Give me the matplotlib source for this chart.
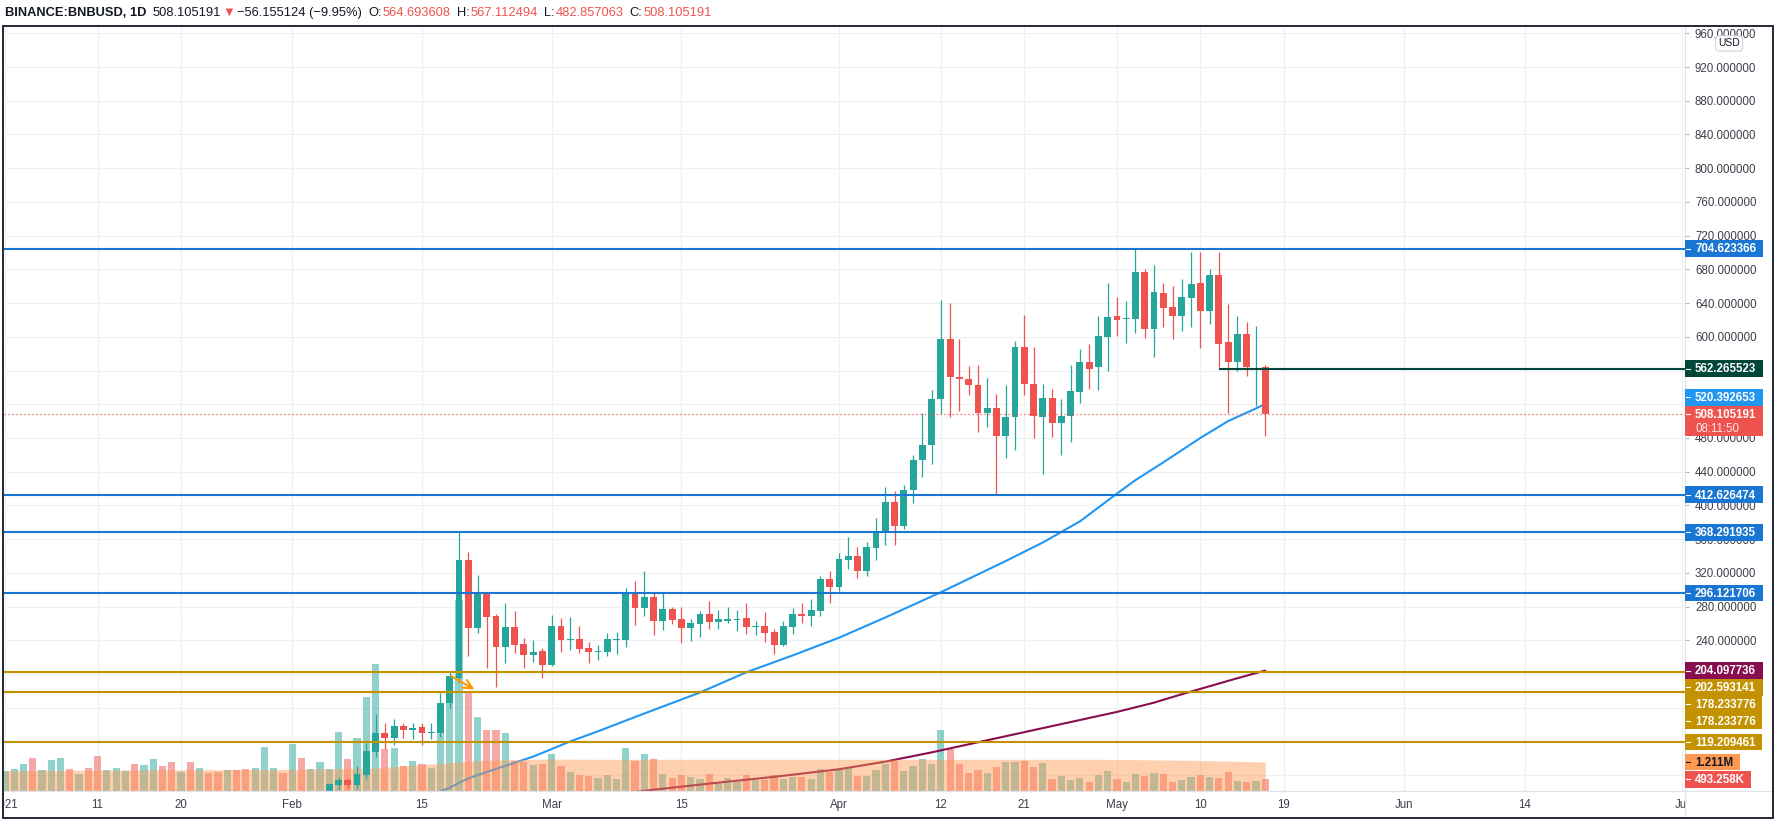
import matplotlib
matplotlib.use("Agg")
import matplotlib.pyplot as plt
import matplotlib.dates as mdates
from matplotlib.patches import Rectangle
from matplotlib.lines import Line2D
from matplotlib.ticker import FormatStrFormatter
from matplotlib.transforms import Bbox, TransformedBbox, blended_transform_factory
import numpy as np
import pandas as pd

plt.rcParams['font.family'] = ['Liberation Sans', 'DejaVu Sans']

W, H = 1779, 832

# ---------------- data ----------------
candle_start = "2021-02-05"
opens = [
    60.0, 68.5, 74.1, 68.1, 80.4, 107.6, 129.7, 123.8, 138.0, 133.7,
    136.8, 130.0, 130.1, 165.3, 195.7, 334.7, 254.1, 296.0, 268.3, 231.6,
    255.3, 235.2, 222.5, 226.9,
    210.3, 256.5, 240.0, 241.1, 230.4, 225.5, 226.1, 240.0, 240.3, 294.4,
    278.2, 290.8, 262.8, 276.6, 264.8, 254.1, 259.2, 270.7, 261.6, 262.8,
    263.6, 266.0, 255.5, 256.5, 249.4, 234.0, 255.3, 270.7, 268.7, 274.3,
    312.2,
    303.1, 335.1, 339.8, 321.6, 349.3, 369.3, 404.0, 375.3, 418.3, 453.4,
    471.2, 525.7, 597.6, 552.6, 550.2, 543.1, 509.1, 515.4, 481.9, 504.4,
    588.1, 544.3, 504.4, 527.7, 497.3, 505.6, 534.8, 570.3, 563.6, 600.3,
    624.4, 621.0, 621.7, 677.0, 609.8, 652.0, 635.0, 625.2, 646.5, 664.0,
    631.1, 673.4, 594.0, 570.7, 603.5, 561.0, 564.693608,
]
highs = [
    70.5, 78.0, 76.8, 90.6, 118.7, 152.2, 142.4, 146.3, 141.6, 142.4,
    141.6, 141.6, 178.0, 202.4, 368.2, 345.3, 316.9, 297.0, 270.7, 284.1,
    274.7, 243.1, 239.9, 230.4,
    269.9, 266.0, 267.1, 256.5, 237.5, 234.0, 248.2, 249.8, 301.5, 309.8,
    321.6, 296.0, 296.0, 279.8, 279.0, 265.6, 275.0, 286.0, 275.4, 279.0,
    276.2, 283.7, 263.2, 273.0, 253.7, 262.4, 277.8, 283.7, 288.5, 315.7,
    321.6,
    343.0, 362.3, 350.4, 356.0, 385.6, 422.2, 416.7, 424.2, 460.2, 509.5,
    536.8, 643.4, 639.8, 597.6, 565.6, 566.4, 551.4, 532.4, 543.1, 594.8,
    625.6, 588.1, 543.5, 538.3, 526.5, 566.4, 585.7, 591.7, 624.8, 664.0,
    647.3, 642.6, 705.0, 680.5, 685.2, 664.0, 660.4, 668.7, 700.6, 700.6,
    680.5, 700.6, 639.0, 624.8, 617.7, 613.0, 567.112494,
]
lows = [
    57.0, 63.4, 64.6, 63.4, 75.2, 101.3, 111.6, 115.9, 124.6, 122.6,
    115.5, 122.6, 125.0, 159.3, 189.7, 221.3, 248.2, 206.7, 184.6, 213.0,
    224.9, 206.7, 213.8, 195.3,
    209.5, 226.5, 228.1, 224.9, 213.4, 216.6, 220.9, 223.7, 232.0, 258.0,
    268.7, 246.2, 251.7, 259.2, 236.7, 239.1, 243.9, 252.9, 252.9, 260.0,
    250.6, 247.0, 246.2, 237.5, 223.3, 233.0, 247.0, 260.0, 256.5, 268.7,
    284.1,
    297.9, 324.4, 313.4, 315.7, 334.7, 353.5, 352.7, 372.0, 402.5, 433.3,
    448.7, 508.3, 504.4, 511.5, 530.4, 486.6, 492.5, 414.0, 455.8, 465.3,
    530.4, 479.5, 436.9, 481.5, 459.4, 474.8, 521.0, 538.0, 536.4, 559.0,
    601.5, 593.2, 605.0, 598.4, 575.9, 612.2, 597.2, 606.3, 612.2, 587.3,
    614.6, 563.6, 509.5, 559.0, 553.0, 517.4, 482.857063,
]
closes = [
    69.3, 74.1, 68.1, 80.8, 108.4, 129.7, 123.8, 138.0, 133.7, 136.4,
    129.7, 131.0, 166.1, 197.3, 334.7, 254.1, 296.0, 267.2, 231.6, 255.3,
    234.0, 222.1, 226.5, 210.3,
    256.5, 240.3, 241.0, 229.6, 226.1, 226.5, 241.1, 241.0, 294.4, 278.2,
    290.8, 262.8, 276.6, 264.0, 254.1, 260.0, 270.7, 261.6, 264.8, 264.8,
    265.6, 255.3, 256.1, 248.2, 234.0, 256.5, 270.7, 268.7, 275.4, 312.2,
    303.1,
    335.9, 339.8, 321.6, 350.5, 368.2, 404.0, 375.3, 418.3, 454.2, 471.6,
    526.0, 597.6, 551.8, 549.4, 542.3, 509.1, 515.4, 481.9, 505.2, 588.1,
    543.5, 505.6, 527.7, 497.3, 506.4, 536.0, 570.3, 562.4, 601.0, 623.6,
    620.5, 622.5, 677.0, 609.8, 653.3, 634.7, 625.2, 647.3, 662.7, 631.1,
    673.4, 592.0, 570.7, 603.5, 564.0, 562.3, 508.105191,
]
change_text = "\u221256.155124 (\u22129.95%)"
timer_text = "08:11:50"

# volume in millions, Jan 1 .. May 17
vol_start = "2021-01-01"
volumes = [
    0.85, 0.90, 1.125, 1.375, 0.875, 1.29, 1.375, 0.92, 0.71, 0.96,
    1.46, 0.875, 0.96, 0.85, 1.125, 1.08, 1.33, 1.04, 1.21, 0.79,
    1.21, 0.96, 0.76, 0.79, 0.875, 0.875, 0.92, 0.96, 1.83, 0.96,
    0.75,
    1.96, 1.375, 0.92, 1.21, 0.92, 2.46, 1.33, 2.21, 3.92, 5.29,
    1.75, 1.79, 1.04, 1.25, 1.125, 0.96, 3.42, 3.75, 7.96, 4.11,
    3.08, 2.54, 2.54, 2.42, 1.25, 1.21, 1.08, 1.125,
    1.54, 1.04, 0.79, 0.67, 0.625, 0.54, 0.67, 0.50, 1.79, 1.26,
    1.54, 1.33, 0.71, 0.54, 0.67, 0.58, 0.50, 0.71, 0.375, 0.54,
    0.375, 0.67, 0.46, 0.46, 0.67, 0.50, 0.58, 0.58, 0.50, 0.92,
    0.79,
    0.875, 1.0, 0.625, 0.625, 0.875, 1.125, 1.25, 0.83, 1.04, 1.33,
    1.125, 2.54, 1.75, 1.125, 0.75, 0.875, 0.75, 1.0, 1.21, 1.21,
    1.25, 1.0, 1.17, 0.50, 0.625, 0.46, 0.54, 0.375, 0.67, 0.83,
    0.50, 0.375, 0.71, 0.625, 0.75, 0.71, 0.375, 0.46, 0.58, 0.67,
    0.58, 0.54, 0.79, 0.42, 0.375, 0.42, 0.493258,
]
# up/down days before the first visible candle (Jan 1 .. Feb 4)
early_dir = "uuudu" "uudud" "duuud" "uuddu" "duddu" "dduuu" "d" "uduu"

ma50_dates = ["2021-02-16", "2021-02-17", "2021-02-18", "2021-02-19", "2021-02-20",
              "2021-02-21", "2021-02-24", "2021-02-27", "2021-03-03", "2021-03-06",
              "2021-03-10", "2021-03-17", "2021-03-22", "2021-03-27", "2021-04-01",
              "2021-04-06", "2021-04-12", "2021-04-19", "2021-04-23", "2021-04-27",
              "2021-05-01", "2021-05-03", "2021-05-06", "2021-05-10", "2021-05-13",
              "2021-05-16", "2021-05-17"]
ma50_vals = [56, 61, 65, 71, 76, 80, 91, 102, 120, 132, 149, 178, 202, 222, 243,
             267, 297, 334, 356, 381, 414, 430, 451, 480, 500, 515, 520.392653]

ma200_dates = ["2021-03-10", "2021-03-11", "2021-03-18", "2021-03-25", "2021-04-01",
               "2021-04-06", "2021-04-11", "2021-04-16", "2021-04-21", "2021-04-26",
               "2021-05-01", "2021-05-05", "2021-05-08", "2021-05-11", "2021-05-14",
               "2021-05-17"]
ma200_vals = [60, 61.5, 70, 78, 87, 96, 107, 119, 131, 143, 155, 166, 176, 185.5,
              195, 204.097736]

volma_dates = ["2021-01-01", "2021-01-15", "2021-02-01", "2021-02-10", "2021-02-15",
               "2021-02-17", "2021-02-20", "2021-02-24", "2021-03-01", "2021-03-06",
               "2021-04-12", "2021-04-30", "2021-05-09", "2021-05-17"]
volma_vals = [0.85, 0.875, 0.90, 0.96, 1.10, 1.15, 1.25, 1.30, 1.33, 1.32, 1.32,
              1.32, 1.28, 1.211]

blue_levels = [704.623366, 412.626474, 368.291935, 296.121706]
gold_levels = [202.593141, 178.233776, 178.233776, 119.209461]
res_level = 562.265523
res_from = "2021-05-12"
arrow_from = ("2021-02-17 22:00", 199)
arrow_to = ("2021-02-20 22:00", 180)

tick_dates = ["2021-01-01", "2021-01-11", "2021-01-20", "2021-02-01", "2021-02-15",
              "2021-03-01", "2021-03-15", "2021-04-01", "2021-04-12", "2021-04-21",
              "2021-05-01", "2021-05-10", "2021-05-19", "2021-06-01", "2021-06-14",
              "2021-07-01"]
tick_labels = ["2021", "11", "20", "Feb", "15", "Mar", "15", "Apr", "12", "21",
               "May", "10", "19", "Jun", "14", "Jul"]

# ---------------- styling ----------------
GREEN = '#26a69a'
RED = '#ef5350'
BLUE = '#1976d2'
GOLD = '#c29200'
TXT = '#131722'
GRID = '#eef0f4'
AXLINE = '#e0e3eb'

def dn(s):
    return mdates.date2num(pd.to_datetime(s))

cdates = mdates.date2num(pd.date_range(candle_start, periods=len(closes), freq='D'))
vdates = mdates.date2num(pd.date_range(vol_start, periods=len(volumes), freq='D'))
o = np.array(opens); h = np.array(highs); l = np.array(lows); c = np.array(closes)
up = c >= o
vol_up = [ch == 'u' for ch in early_dir] + list(up)

fig = plt.figure(figsize=(W / 100, H / 100), dpi=100)
rect = [4 / W, 1 - 791 / H, 1681 / W, 765 / H]
axv = fig.add_axes(rect)
ax = fig.add_axes(rect, sharex=axv)
ax.patch.set_visible(False)
for a in (ax, axv):
    for s in a.spines.values():
        s.set_visible(False)

# grid (behind the volume)
tick_nums = [dn(d) for d in tick_dates]
grid_prices = np.arange(80, 961, 40)
axv.vlines(tick_nums, 0, 1, transform=axv.get_xaxis_transform(), color=GRID, lw=0.9, zorder=0.5)
axv.hlines(grid_prices, 0, 1, transform=ax.get_yaxis_transform(), color=GRID, lw=0.9, zorder=0.5)

# volume bars, moving averages, volume MA area
vcols = [GREEN if u else RED for u in vol_up]
axv.bar(vdates, volumes, width=0.78, color=vcols, alpha=0.5, lw=0, zorder=1)
axv.plot([dn(d) for d in ma50_dates], ma50_vals, color='#2196f3', lw=1.5,
         transform=ax.transData, zorder=2, solid_capstyle='round', solid_joinstyle='round')
axv.plot([dn(d) for d in ma200_dates], ma200_vals, color='#880e4f', lw=1.5,
         transform=ax.transData, zorder=2, solid_capstyle='round', solid_joinstyle='round')
axv.fill_between([dn(d) for d in volma_dates], 0, volma_vals, color='#ff9850',
                 alpha=0.45, lw=0, zorder=3)

# candles
ccols = np.where(up, GREEN, RED)
ax.vlines(cdates, l, h, colors=ccols, lw=0.9, zorder=3)
body = np.maximum(np.abs(c - o), 1.2)
ax.bar(cdates, body, bottom=np.minimum(o, c), width=0.74, color=ccols, lw=0, zorder=4)

# drawings
for lv in blue_levels:
    ax.axhline(lv, color=BLUE, lw=1.5, zorder=5)
for lv in gold_levels:
    ax.axhline(lv, color=GOLD, lw=1.5, zorder=5)
ax.hlines(res_level, dn(res_from), dn("2021-08-01"), color='#00473a', lw=1.5, zorder=5)
ax.axhline(closes[-1], color=RED, lw=0.9, ls=(0, (1, 2.2)), zorder=5)
ax.annotate("", xy=(dn(arrow_to[0]), arrow_to[1]), xytext=(dn(arrow_from[0]), arrow_from[1]),
            arrowprops=dict(arrowstyle='->', color='#ff9800', lw=1.5, mutation_scale=16),
            zorder=6)

# axes limits / ticks
jun1 = dn("2021-06-01")
ax.set_xlim(jun1 - 151.1, jun1 + 30.3)
ax.set_ylim(61.2, 968.7)
axv.set_ylim(0, 765 / 24)
axv.set_yticks([])
axv.tick_params(axis='x', length=0, labelbottom=False)
ax.tick_params(axis='x', length=0, labelbottom=False)
ax.yaxis.tick_right()
ax.set_yticks(grid_prices)
ax.yaxis.set_major_formatter(FormatStrFormatter('%.6f'))
ax.tick_params(axis='y', length=2.9, width=0.8, color='#b2b5be', pad=4.3,
               labelsize=8.3, labelcolor='#3b3f4a')

# x labels, clipped at the frame and price scale
clip = TransformedBbox(Bbox.from_extents(4 / W, 0, 1685 / W, 1), fig.transFigure)
xt = blended_transform_factory(ax.transData, fig.transFigure)
for d, lab in zip(tick_nums, tick_labels):
    t = fig.text(d, 1 - 805 / H, lab, transform=xt, ha='center', va='center',
                 fontsize=8.3, color='#3b3f4a')
    t.set_clip_on(True)
    t.set_clip_box(clip)

# frame and separators
fig.add_artist(Line2D([4 / W, 1773 / W], [1 - 791 / H] * 2, color=AXLINE, lw=0.9))
fig.add_artist(Line2D([1685 / W] * 2, [1 - 26 / H, 1 - 818 / H], color=AXLINE, lw=0.9))
fig.add_artist(Rectangle((3 / W, 1 - 818 / H), 1770 / W, 792 / H, fill=False,
                         ec=TXT, lw=1.3, transform=fig.transFigure, zorder=10))

renderer = fig.canvas.get_renderer()

def py(a, v):
    return H - a.transData.transform((0, v))[1]

def price_box(label, yc, bg, fg, hgt=16.8, extra=None):
    t = fig.text(1695 / W, 1 - (yc + 0.8) / H, label, ha='left', va='center',
                 fontsize=8.3, fontweight='bold', color=fg, zorder=8)
    w = t.get_window_extent(renderer).width
    top = yc - 8.4
    fig.add_artist(Rectangle((1685 / W, 1 - (top + hgt) / H), (w + 16.5) / W, hgt / H,
                             transform=fig.transFigure, fc=bg, ec='none', zorder=7))
    fig.add_artist(Line2D([1686 / W, 1690 / W], [1 - yc / H] * 2, color=fg, lw=0.8, zorder=8))
    if extra:
        fig.text(1695 / W, 1 - (yc + 14.8) / H, extra, ha='left', va='center',
                 fontsize=8.3, color=fg, alpha=0.85, zorder=8)

labels = [(f"{blue_levels[0]:.6f}", py(ax, blue_levels[0]), BLUE, 'white'),
          (f"{res_level:.6f}", py(ax, res_level), '#00473a', 'white'),
          (f"{ma50_vals[-1]:.6f}", py(ax, ma50_vals[-1]), '#2196f3', 'white')]
labels += [(f"{v:.6f}", py(ax, v), BLUE, 'white') for v in blue_levels[1:]]
labels += [(f"{ma200_vals[-1]:.6f}", py(ax, ma200_vals[-1]), '#880e4f', 'white')]
labels += [(f"{v:.6f}", py(ax, v), GOLD, 'white') for v in gold_levels]
labels += [(f"{volma_vals[-1]:.3f}M", py(axv, volma_vals[-1]), '#ff9850', TXT),
           (f"{volumes[-1] * 1000:.3f}K", py(axv, volumes[-1]), RED, 'white')]
labels.sort(key=lambda r: r[1])

yc_last = py(ax, closes[-1])
f_top, f_bot = yc_last - 8.4, yc_last - 8.4 + 30
hb = 16.8
prev_bot = -1e9
for lab, y, bg, fg in labels:
    if y > yc_last + 7:
        prev_bot = max(prev_bot, f_bot)
    if y + hb / 2 > f_top and y - hb / 2 < f_bot:
        y = f_top - hb / 2 if y < yc_last + 7 else f_bot + hb / 2
    if y - hb / 2 < prev_bot:
        y = prev_bot + hb / 2
    prev_bot = y + hb / 2
    price_box(lab, y, bg, fg)
price_box(f"{closes[-1]:.6f}", yc_last, RED, 'white', hgt=30, extra=timer_text)

fig.text(1729 / W, 1 - 43.5 / H, "USD", ha='center', va='center', fontsize=7.5, color=TXT,
         zorder=9, bbox=dict(boxstyle='round,pad=0.25,rounding_size=0.3', fc='white',
                             ec='#d1d4dc', lw=0.8))

# header line
pieces = [("BINANCE:BNBUSD, 1D", TXT, 'bold', 6),
          (f"{closes[-1]:.6f}", TXT, 'normal', 2),
          ("\u25bc", RED, 'normal', 2),
          (change_text, TXT, 'normal', 6),
          ("O:", TXT, 'normal', 1), (f"{opens[-1]:.6f}", RED, 'normal', 6),
          ("H:", TXT, 'normal', 1), (f"{highs[-1]:.6f}", RED, 'normal', 6),
          ("L:", TXT, 'normal', 1), (f"{lows[-1]:.6f}", RED, 'normal', 6),
          ("C:", TXT, 'normal', 1), (f"{closes[-1]:.6f}", RED, 'normal', 0)]
x = 5
for txt, col, wt, gap in pieces:
    t = fig.text(x / W, 1 - 13 / H, txt, color=col, fontweight=wt, fontsize=9.3,
                 ha='left', va='center')
    x += t.get_window_extent(renderer).width + gap

fig.savefig("out.png", dpi=100, facecolor='white')
